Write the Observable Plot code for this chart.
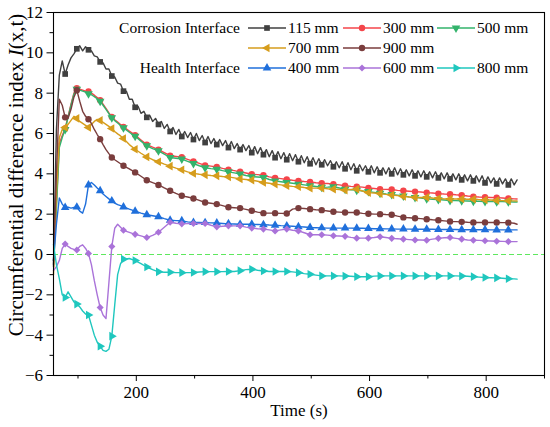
<!DOCTYPE html>
<html><head><meta charset="utf-8">
<script src="https://cdn.jsdelivr.net/npm/d3@7"></script>
<script src="https://cdn.jsdelivr.net/npm/@observablehq/plot@0.6"></script>
<style>
body{margin:0;background:#fff;}
#chart{position:relative;width:550px;height:427px;}
#chart svg, #chart svg text { font-family: "Liberation Serif", "Times New Roman", serif !important; }
</style></head><body><div id="chart"></div>
<script>
// ---------- DATA ----------
const time = [58,63,68,73,78,83,88,93,98,103,108,113,118,123,128,133,138,143,148,153,158,163,168,173,178,
188,198,208,218,228,238,248,258,268,278,288,298,308,318,328,338,348,358,368,378,388,398,408,418,428,438,448,458,468,478,
488,498,508,518,528,538,548,558,568,578,588,598,608,618,628,638,648,658,668,678,688,698,708,718,728,738,748,758,768,778,
788,798,808,818,828,838,848,853];

const timeGray = [58,63,68,73,78,83,88,93,98,103,108,113,118,123,128,133,138,143,148,153,158,163,168,173,178,183,188,193,198,
203,208,213,218,223,228,233,238,243,248,253,258,263,268,273,278,283,288,293,298,303,308,313,318,323,328,333,338,343,348,353,
358,363,368,373,378,383,388,393,398,403,408,413,418,423,428,433,438,443,448,453,458,463,468,473,478,483,488,493,498,503,
508,513,518,523,528,533,538,543,548,553,558,563,568,573,578,583,588,593,598,603,608,613,618,623,628,633,638,643,648,653,
658,663,668,673,678,683,688,693,698,703,708,713,718,723,728,733,738,743,748,753,758,763,768,773,778,783,788,793,798,803,
808,813,818,823,828,833,838,843,848,853];

const s115 = [-0.5,6.2,8.9,9.6,8.95,9.4,9.75,9.95,10.2,10.35,10.1,10.3,10.15,10.1,9.85,9.8,9.55,9.5,9.2,9.2,8.85,8.8,8.5,8.45,8.1,8.1,7.7,7.7,7.3,
7.35,7.0,7.1,6.8,6.9,6.6,6.75,6.45,6.6,6.25,6.45,6.1,6.3,5.95,6.2,5.85,6.1,5.8,6.05,5.7,6.0,5.65,5.9,5.55,5.85,5.5,5.75,5.45,5.7,5.4,5.65,
5.3,5.6,5.25,5.5,5.2,5.45,5.15,5.4,5.05,5.35,5.0,5.3,4.95,5.2,4.85,5.15,4.8,5.1,4.75,5.05,4.7,5.0,4.65,4.95,4.6,4.9,4.55,4.85,4.5,4.8,
4.45,4.75,4.45,4.7,4.4,4.65,4.35,4.6,4.3,4.6,4.25,4.55,4.2,4.5,4.15,4.45,4.15,4.4,4.1,4.4,4.05,4.35,4.05,4.3,4.0,4.3,4.0,4.3,3.95,4.25,
3.95,4.2,3.9,4.2,3.9,4.15,3.85,4.15,3.85,4.1,3.8,4.1,3.8,4.05,3.75,4.05,3.75,4.0,3.7,4.0,3.7,3.95,3.65,3.95,3.65,3.9,3.6,3.9,3.55,3.85,
3.55,3.8,3.5,3.8,3.5,3.75,3.45,3.75,3.45,3.7];

const s300 = [-0.3,2.5,5.5,5.9,6.25,6.85,7.45,8.0,8.25,8.2,8.15,8.1,8.08,8.0,7.9,7.78,7.65,7.45,7.25,7.02,6.82,6.68,6.57,6.45,6.33,
6.12,5.92,5.68,5.45,5.32,5.2,5.05,4.9,4.86,4.82,4.72,4.62,4.52,4.42,4.38,4.34,4.27,4.21,4.16,4.1,4.04,3.98,3.96,3.93,3.85,3.8,3.76,3.72,3.68,3.65,
3.62,3.6,3.56,3.53,3.52,3.49,3.45,3.41,3.38,3.36,3.34,3.3,3.27,3.24,3.23,3.22,3.18,3.16,3.14,3.12,3.1,3.07,3.05,3.02,3.0,2.99,2.96,2.94,2.9,2.87,
2.85,2.84,2.83,2.82,2.8,2.78,2.76,2.75];

const s500 = [-0.3,2.3,5.3,5.8,6.2,6.8,7.4,7.95,8.2,8.15,8.1,8.05,7.97,7.92,7.83,7.72,7.6,7.4,7.2,6.98,6.78,6.64,6.52,6.4,6.28,
6.06,5.86,5.62,5.39,5.25,5.14,4.98,4.81,4.77,4.73,4.62,4.51,4.4,4.3,4.26,4.23,4.16,4.1,4.05,3.99,3.92,3.86,3.84,3.82,3.72,3.65,3.61,3.57,3.53,3.49,
3.45,3.41,3.37,3.33,3.34,3.36,3.3,3.24,3.21,3.19,3.15,3.12,3.08,3.04,3.0,2.97,2.94,2.9,2.86,2.83,2.8,2.76,2.74,2.72,2.7,2.68,2.67,2.66,2.65,2.64,
2.64,2.63,2.63,2.62,2.62,2.61,2.6,2.6];

const s700 = [-1.0,3.0,5.8,6.2,6.3,6.45,6.65,6.85,6.75,6.6,6.5,6.4,6.3,6.45,6.6,6.7,6.65,6.55,6.45,6.35,6.25,6.1,5.98,5.88,5.75,
5.45,5.22,5.02,4.84,4.7,4.6,4.48,4.38,4.28,4.2,4.1,4.02,3.98,3.95,3.92,3.9,3.87,3.85,3.8,3.75,3.72,3.69,3.63,3.57,3.53,3.49,3.45,3.41,3.38,3.36,
3.32,3.29,3.29,3.29,3.26,3.24,3.22,3.19,3.22,3.24,3.15,3.07,3.05,3.02,2.98,2.95,2.92,2.88,2.85,2.83,2.83,2.83,2.8,2.78,2.76,2.75,2.75,2.75,2.74,2.74,
2.72,2.7,2.7,2.68,2.67,2.66,2.66,2.65];

const s900 = [-0.6,4.0,7.7,7.4,6.8,6.75,7.2,7.8,8.15,7.6,7.1,6.85,6.71,6.5,6.2,5.95,5.72,5.45,5.2,5.0,4.81,4.7,4.6,4.5,4.4,
4.25,4.07,3.88,3.68,3.56,3.45,3.3,3.16,3.03,2.91,2.85,2.78,2.68,2.58,2.54,2.5,2.42,2.34,2.32,2.3,2.24,2.17,2.1,2.05,2.05,2.05,2.04,2.03,2.25,2.3,
2.28,2.25,2.22,2.2,2.16,2.12,2.1,2.08,2.08,2.08,2.04,2.02,2.0,2.0,1.98,1.97,1.9,1.84,1.82,1.8,1.78,1.75,1.72,1.7,1.67,1.64,1.63,1.62,1.6,1.59,
1.59,1.59,1.59,1.59,1.58,1.58,1.55,1.5];

const s400 = [-0.3,1.5,2.8,2.5,2.33,2.35,2.3,2.33,2.35,2.15,2.05,2.5,3.45,3.57,3.45,3.3,3.16,3.0,2.88,2.76,2.66,2.55,2.47,2.42,2.36,
2.25,2.15,2.05,1.97,1.92,1.87,1.78,1.7,1.68,1.67,1.62,1.59,1.59,1.58,1.57,1.56,1.54,1.52,1.51,1.5,1.5,1.5,1.49,1.48,1.46,1.45,1.43,1.42,1.4,1.38,
1.36,1.34,1.33,1.32,1.31,1.31,1.31,1.31,1.31,1.3,1.3,1.29,1.28,1.28,1.27,1.27,1.26,1.26,1.26,1.25,1.25,1.25,1.25,1.24,1.24,1.24,1.24,1.23,1.23,1.23,
1.23,1.23,1.22,1.22,1.22,1.22,1.22,1.22];

const s600 = [-0.8,-0.6,-0.3,0.3,0.52,0.4,0.3,0.25,0.22,0.4,0.48,0.3,0.05,-0.5,-1.3,-2.0,-2.63,-3.0,-3.18,-1.4,0.4,1.3,1.5,1.35,1.2,
1.1,1.0,0.92,0.84,0.95,1.1,1.35,1.6,1.55,1.52,1.53,1.54,1.54,1.54,1.45,1.37,1.4,1.42,1.42,1.42,1.36,1.31,1.28,1.26,1.22,1.17,1.22,1.26,1.2,1.17,
1.08,0.98,0.98,0.98,0.96,0.93,0.92,0.9,0.85,0.81,0.81,0.81,0.84,0.88,0.84,0.8,0.78,0.76,0.74,0.72,0.72,0.71,0.76,0.8,0.83,0.84,0.8,0.76,0.72,0.71,
0.7,0.68,0.67,0.66,0.65,0.64,0.64,0.64];

const s800 = [0.5,-0.5,-1.2,-2.0,-2.13,-1.85,-2.1,-2.35,-2.46,-2.6,-2.8,-2.95,-3.0,-3.5,-4.0,-4.35,-4.55,-4.75,-4.8,-4.7,-4.05,-2.5,-1.0,-0.45,-0.23,
-0.2,-0.3,-0.45,-0.62,-0.75,-0.86,-0.88,-0.88,-0.9,-0.9,-0.9,-0.89,-0.87,-0.85,-0.85,-0.85,-0.85,-0.84,-0.84,-0.8,-0.75,-0.73,-0.78,-0.82,-0.84,-0.84,-0.84,-0.84,-0.86,-0.9,
-0.95,-0.98,-1.02,-1.06,-1.06,-1.06,-1.06,-1.07,-1.08,-1.1,-1.1,-1.1,-1.07,-1.06,-1.06,-1.06,-1.06,-1.06,-1.06,-1.06,-1.06,-1.06,-1.06,-1.06,-1.06,-1.06,-1.06,-1.07,-1.08,-1.1,
-1.12,-1.14,-1.15,-1.16,-1.18,-1.2,-1.21,-1.22];

const seriesNames = ["115 mm","300 mm","500 mm","700 mm","900 mm","400 mm","600 mm","800 mm"];
const seriesValues = [s115, s300, s500, s700, s900, s400, s600, s800];
const seriesColors = ["#404040","#f4454a","#33b36b","#d69d1c","#7a3d3d","#1f6fdb","#aa73d9","#1fc7be"];
const groupLabels = ["Corrosion Interface", "Health Interface"];
const xMajor = [200,400,600,800], xMinor = [100,300,500,700,900];
const yMajor = [-6,-4,-2,0,2,4,6,8,10,12], yMinor = [-5,-3,-1,1,3,5,7,9,11];

// ---------- SYMBOLS ----------
const S3 = Math.sqrt(3);
function triangleDir(dir) {
  return {draw(ctx, size) {
    const y = -Math.sqrt(size / (S3 * 3));
    if (dir === "down") { ctx.moveTo(0, -2*y); ctx.lineTo(-S3*y, y); ctx.lineTo(S3*y, y); }
    else if (dir === "left") { ctx.moveTo(2*y, 0); ctx.lineTo(-y, S3*y); ctx.lineTo(-y, -S3*y); }
    else { ctx.moveTo(-2*y, 0); ctx.lineTo(y, S3*y); ctx.lineTo(y, -S3*y); }
    ctx.closePath();
  }};
}
const seriesSymbols = ["square","circle",triangleDir("down"),triangleDir("left"),"circle","triangle","diamond2",triangleDir("right")];
const FONT = "Liberation Serif, Times New Roman, serif";

// ---------- BUILD ----------
const marks = [];
marks.push(Plot.ruleY([0], {stroke: "#5ee85e", strokeWidth: 1.1, strokeDasharray: "5,3"}));
seriesValues.forEach((vals, i) => {
  const ts = i === 0 ? timeGray : time;
  const rows = vals.map((v, j) => ({t: ts[j], v}));
  const mk = rows.filter(d => d.t >= 78 && (d.t - 78) % 20 === 0);
  marks.push(Plot.line(rows, {x: "t", y: "v", stroke: seriesColors[i], strokeWidth: 1.4}));
  marks.push(Plot.dot(mk, {x: "t", y: "v", symbol: seriesSymbols[i], fill: seriesColors[i], r: 3.2}));
});
marks.push(Plot.axisX({ticks: xMajor, tickSize: 6, tickPadding: 4, fontSize: 17, label: null}));
marks.push(Plot.axisX({ticks: xMinor, tickSize: 3.5, tickFormat: () => "", label: null}));
marks.push(Plot.axisY({ticks: yMajor, tickSize: 6.5, tickPadding: 4, fontSize: 17, label: null}));
marks.push(Plot.axisY({ticks: yMinor, tickSize: 3.5, tickFormat: () => "", label: null}));
marks.push(Plot.frame({stroke: "#000", strokeWidth: 1.1}));

const chart = Plot.plot({
  width: 550, height: 427,
  marginLeft: 53, marginRight: 6, marginTop: 12, marginBottom: 52,
  x: {domain: [58, 900]},
  y: {domain: [-6, 12]},
  style: {fontFamily: FONT, fontSize: "17px", color: "#000", background: "#fff"},
  marks
});
document.getElementById("chart").appendChild(chart);

// ---------- TITLES & LEGEND ----------
const svg = d3.select(chart);
const yt = svg.append("text")
  .attr("transform", "translate(23,175) rotate(-90)")
  .attr("text-anchor", "middle")
  .style("font-size", "21px").attr("fill", "#000");
yt.append("tspan").text("Circumferential difference index ");
yt.append("tspan").style("font-style", "italic").text("I");
yt.append("tspan").text("(x,t)");
svg.append("text").attr("x", 299).attr("y", 416).attr("text-anchor", "middle")
  .style("font-size", "17px").attr("fill", "#000").text("Time (s)");

const lg = svg.append("g").style("font-size", "15.5px").attr("text-anchor", "start");
const rowsY = [28, 48, 68];
const colX = [248, 343, 437];
const layout = [[0,0,0],[1,0,1],[2,0,2],[3,1,0],[4,1,1],[5,2,0],[6,2,1],[7,2,2]];
layout.forEach(([si, r, c]) => {
  const x0 = colX[c], y0 = rowsY[r];
  lg.append("line").attr("x1", x0).attr("x2", x0 + 38).attr("y1", y0).attr("y2", y0)
    .attr("stroke", seriesColors[si]).attr("stroke-width", 1.4);
  const sym = seriesSymbols[si];
  const st = typeof sym === "string" ? {square: d3.symbolSquare, circle: d3.symbolCircle, triangle: d3.symbolTriangle, diamond2: d3.symbolDiamond2}[sym] : sym;
  lg.append("path").attr("d", d3.symbol(st, Math.PI * 3.2 * 3.2)()).attr("transform", `translate(${x0 + 19},${y0})`)
    .attr("fill", seriesColors[si]);
  lg.append("text").attr("x", x0 + 40).attr("y", y0 + 5.3).attr("text-anchor", "start").attr("fill", "#000").text(seriesNames[si]);
});
lg.append("text").attr("x", 240).attr("y", rowsY[0] + 5.3).attr("text-anchor", "end").attr("fill", "#000").text(groupLabels[0]);
lg.append("text").attr("x", 240).attr("y", rowsY[2] + 5.3).attr("text-anchor", "end").attr("fill", "#000").text(groupLabels[1]);
</script></body></html>
